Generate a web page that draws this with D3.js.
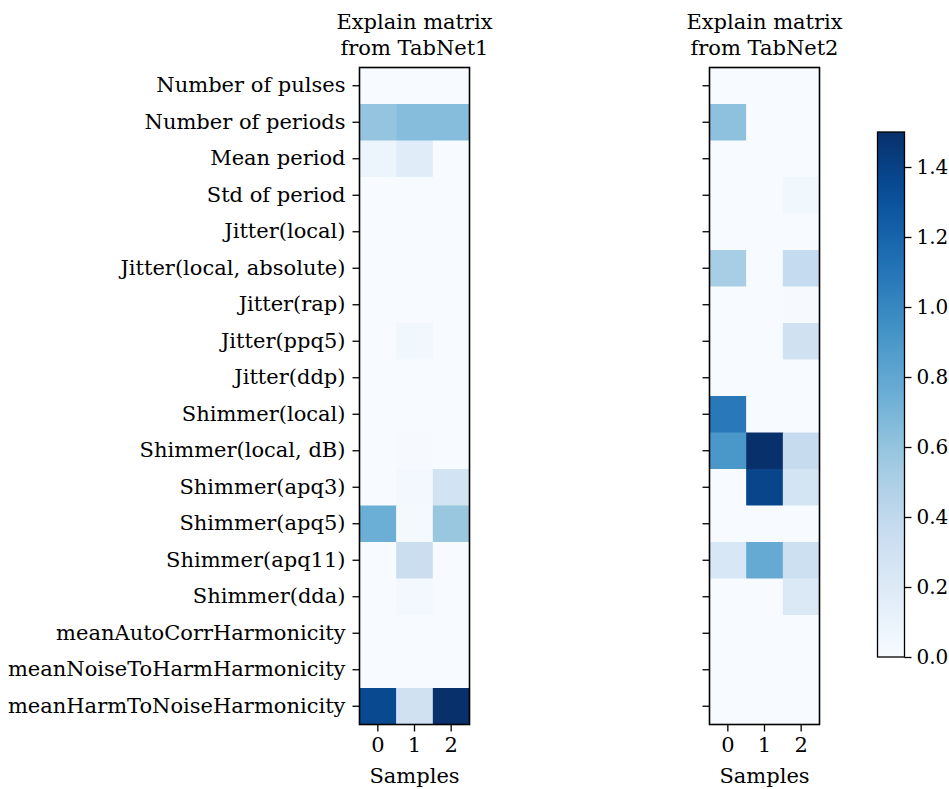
<!DOCTYPE html>
<html><head><meta charset="utf-8">
<script src="https://cdn.jsdelivr.net/npm/d3@7"></script>
<style>body{margin:0;background:#fff}svg{display:block}</style>
</head><body>
<svg id="c" width="949" height="789"></svg>
<script>
const features = ["Number of pulses","Number of periods","Mean period","Std of period","Jitter(local)","Jitter(local, absolute)","Jitter(rap)","Jitter(ppq5)","Jitter(ddp)","Shimmer(local)","Shimmer(local, dB)","Shimmer(apq3)","Shimmer(apq5)","Shimmer(apq11)","Shimmer(dda)","meanAutoCorrHarmonicity","meanNoiseToHarmHarmonicity","meanHarmToNoiseHarmonicity"];
const samples = [0,1,2];
const titles = ["Explain matrix\nfrom TabNet1","Explain matrix\nfrom TabNet2"];
// rows = features, columns = samples
const tabnet1 = [
 [0,0,0],[0.60,0.65,0.65],[0.08,0.17,0],[0,0,0],[0,0,0],[0,0,0],[0,0,0],[0,0.05,0],[0,0,0],
 [0,0,0],[0,0.01,0],[0,0.03,0.28],[0.75,0.02,0.58],[0,0.34,0],[0,0.03,0],[0,0,0],[0,0,0],[1.36,0.30,1.50]];
const tabnet2 = [
 [0,0,0],[0.62,0,0],[0,0,0],[0,0,0.05],[0,0,0],[0.52,0,0.38],[0,0,0.01],[0,0,0.30],[0,0,0],
 [1.08,0,0],[0.90,1.50,0.37],[0,1.38,0.27],[0,0,0],[0.24,0.78,0.32],[0,0,0.21],[0,0,0],[0,0,0],[0,0,0]];
const cbTicks = [0.0,0.2,0.4,0.6,0.8,1.0,1.2,1.4];
const vmax = 1.5;

const blues = ["#f7fbff","#deebf7","#c6dbef","#9ecae1","#6baed6","#4292c6","#2171b5","#08519c","#08306b"];
const color = d3.scaleLinear().domain(blues.map((_,i)=>i/8*vmax)).range(blues).interpolate(d3.interpolateRgb).clamp(true);

const svg = d3.select("#c");
const font = "'DejaVu Serif', serif";
const fs = 21;
const plotTop = 67.5, plotBottom = 724.5;
const y = d3.scaleBand().domain(features).range([plotTop,plotBottom]);
const panels = [{data:tabnet1,x0:359.5,x1:469.5,labels:true},{data:tabnet2,x0:709.5,x1:819.5,labels:false}];

panels.forEach((p,pi)=>{
  const x = d3.scaleBand().domain(samples).range([p.x0,p.x1]);
  const g = svg.append("g");
  features.forEach((f,ri)=>{
    samples.forEach((s,ci)=>{
      g.append("rect").attr("x",x(s)).attr("y",y(f)).attr("width",x.bandwidth()+0.5).attr("height",y.bandwidth()+0.5)
        .attr("fill",color(p.data[ri][ci]));
    });
  });
  g.append("rect").attr("x",p.x0).attr("y",plotTop).attr("width",p.x1-p.x0).attr("height",plotBottom-plotTop)
    .attr("fill","none").attr("stroke","#000").attr("stroke-width",1.6);
  const ya = d3.axisLeft(y).tickSize(7).tickPadding(7);
  if(!p.labels) ya.tickFormat("");
  const yg = svg.append("g").attr("transform",`translate(${p.x0},0)`).call(ya);
  const xa = d3.axisBottom(x).tickSize(7).tickPadding(6);
  const xg = svg.append("g").attr("transform",`translate(0,${plotBottom})`).call(xa);
  [yg,xg].forEach(a=>{
    a.select(".domain").remove();
    a.selectAll("line").attr("stroke","#000").attr("stroke-width",1.3);
    a.selectAll("text").attr("font-family",font).attr("font-size",fs).attr("fill","#000");
  });
  const cx = (p.x0+p.x1)/2;
  svg.append("text").attr("x",cx).attr("y",783).attr("text-anchor","middle")
    .attr("font-family",font).attr("font-size",fs).text("Samples");
  titles[pi].split("\n").forEach((t,i)=>{
    svg.append("text").attr("x",cx).attr("y",29+i*26).attr("text-anchor","middle")
      .attr("font-family",font).attr("font-size",fs).text(t);
  });
});

// colorbar
const cbx0 = 877.5, cbx1 = 904.5, cby0 = 132, cby1 = 657;
const cy = d3.scaleLinear().domain([0,vmax]).range([cby1,cby0]);
const grad = svg.append("defs").append("linearGradient").attr("id","cbg")
  .attr("x1",0).attr("y1",1).attr("x2",0).attr("y2",0);
d3.range(0,1.0001,0.05).forEach(t=>{
  grad.append("stop").attr("offset",t).attr("stop-color",color(t*vmax));
});
svg.append("rect").attr("x",cbx0).attr("y",cby0).attr("width",cbx1-cbx0).attr("height",cby1-cby0)
  .attr("fill","url(#cbg)").attr("stroke","#000").attr("stroke-width",1.3);
const ca = d3.axisRight(cy).tickValues(cbTicks).tickFormat(d3.format(".1f")).tickSize(7).tickPadding(5);
const cg = svg.append("g").attr("transform",`translate(${cbx1},0)`).call(ca);
cg.select(".domain").remove();
cg.selectAll("line").attr("stroke","#000").attr("stroke-width",1.3);
cg.selectAll("text").attr("font-family",font).attr("font-size",20).attr("fill","#000");
</script>
</body></html>
